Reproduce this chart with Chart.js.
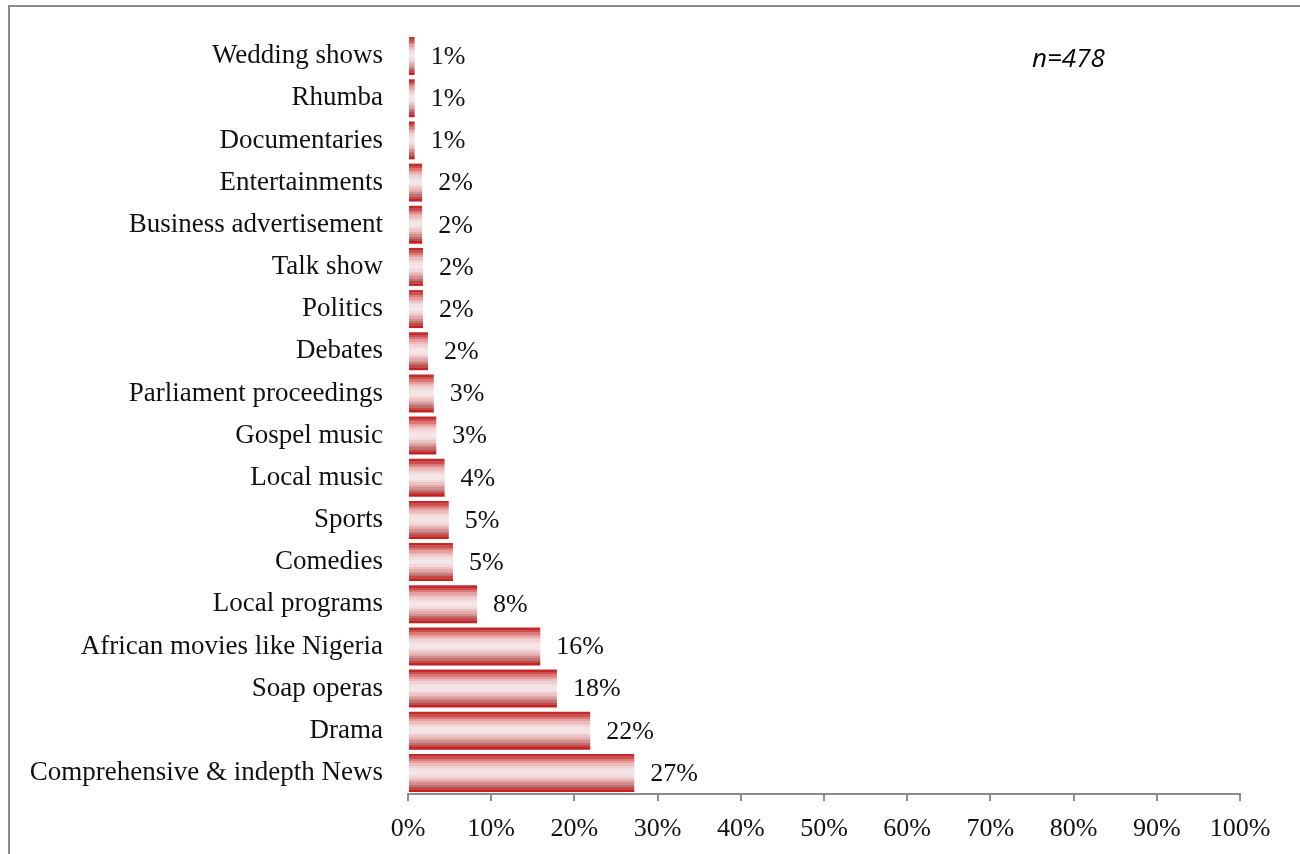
<!DOCTYPE html>
<html>
<head>
<meta charset="utf-8">
<script src="https://cdn.jsdelivr.net/npm/chart.js@4/dist/chart.umd.min.js"></script>
<style>
  html, body { margin: 0; padding: 0; background: #fff; }
  #wrap { position: relative; width: 1300px; height: 854px; overflow: hidden; }
  #frame { position: absolute; left: 8px; top: 5px; width: 1400px; height: 900px;
           border-top: 2px solid #8c8c8c; border-left: 2px solid #8c8c8c; pointer-events: none; }
  canvas { position: absolute; left: 0; top: 0; }
</style>
</head>
<body>
<div id="wrap">
  <canvas id="c" width="1300" height="854"></canvas>
  <div id="frame"></div>
</div>
<script>
// Programme types watched, share of respondents (%)
const categories = [
  'Wedding shows', 'Rhumba', 'Documentaries', 'Entertainments',
  'Business advertisement', 'Talk show', 'Politics', 'Debates',
  'Parliament proceedings', 'Gospel music', 'Local music', 'Sports',
  'Comedies', 'Local programs', 'African movies like Nigeria',
  'Soap operas', 'Drama', 'Comprehensive & indepth News'
];
const shares = [0.8, 0.8, 0.8, 1.7, 1.7, 1.8, 1.8, 2.4, 3.1, 3.4, 4.4, 4.9, 5.4, 8.3, 15.9, 17.9, 21.9, 27.2];
const xTicks = [0, 10, 20, 30, 40, 50, 60, 70, 80, 90, 100];
const sampleNote = 'n=478';

const serif = "'Liberation Serif', 'Times New Roman', serif";
const barPct = 0.9;

// stepped red-pink-red band colours, top edge to bottom edge of a bar
const bands = ['#c22a2c', '#cf4f51', '#db7877', '#e69e9e', '#ecbabb', '#f0d0d1', '#f3dfe0',
               '#f4e5e6', '#f4e4e5', '#f1d9da', '#ecc2c3', '#e3a8a9', '#d38e8e', '#bd7272', '#c84848', '#c42222'];

function barFill(c) {
  const chart = c.chart;
  const area = chart.chartArea;
  if (!area || c.type !== 'data') return '#d04a4e';
  const ys = chart.scales.y;
  const step = Math.abs(ys.getPixelForValue(1) - ys.getPixelForValue(0));
  const half = step * barPct / 2;
  const yc = ys.getPixelForValue(c.dataIndex);
  const g = chart.ctx.createLinearGradient(0, yc - half, 0, yc + half);
  const n = bands.length;
  bands.forEach((col, i) => {
    g.addColorStop(i / n, col);
    g.addColorStop(Math.min(1, (i + 1) / n - 0.0001), col);
  });
  return g;
}

const valueLabels = {
  id: 'valueLabels',
  afterDatasetsDraw(chart) {
    const ctx = chart.ctx;
    const meta = chart.getDatasetMeta(0);
    ctx.save();
    ctx.font = '26px ' + serif;
    ctx.fillStyle = '#111';
    ctx.textAlign = 'left';
    ctx.textBaseline = 'middle';
    meta.data.forEach((bar, i) => {
      ctx.fillText(Math.round(shares[i]) + '%', bar.x + 16, bar.y + 1);
    });
    ctx.font = "italic 26px 'Open Sans', 'Liberation Sans', sans-serif";
    ctx.fillStyle = '#000';
    ctx.fillText(sampleNote, 1032, 60);
    ctx.restore();
  }
};

new Chart(document.getElementById('c'), {
  type: 'bar',
  data: {
    labels: categories,
    datasets: [{
      data: shares,
      backgroundColor: barFill,
      borderWidth: 0,
      barPercentage: barPct,
      categoryPercentage: 1.0
    }]
  },
  options: {
    indexAxis: 'y',
    responsive: false,
    animation: false,
    layout: { padding: { top: 35, right: 60, left: 0, bottom: 0 } },
    plugins: { legend: { display: false }, tooltip: { enabled: false } },
    scales: {
      y: {
        grid: { display: false, drawTicks: false },
        border: { display: false },
        ticks: { autoSkip: false, padding: 25, color: '#111', font: { family: serif, size: 27 } },
        afterFit(s) { s.width = 408; s.paddingTop = 0; s.paddingBottom = 0; }
      },
      x: {
        min: 0, max: 100,
        afterBuildTicks(s) { s.ticks = xTicks.map(v => ({ value: v })); },
        grid: { drawOnChartArea: false, drawTicks: true, tickLength: 7, color: '#8c8c8c', lineWidth: 2 },
        border: { display: true, color: '#8c8c8c', width: 2 },
        ticks: { padding: 13, color: '#111', font: { family: serif, size: 26 },
                 callback: v => v + '%' },
        afterFit(s) { s.height = 60; }
      }
    }
  },
  plugins: [valueLabels]
});
</script>
</body>
</html>
